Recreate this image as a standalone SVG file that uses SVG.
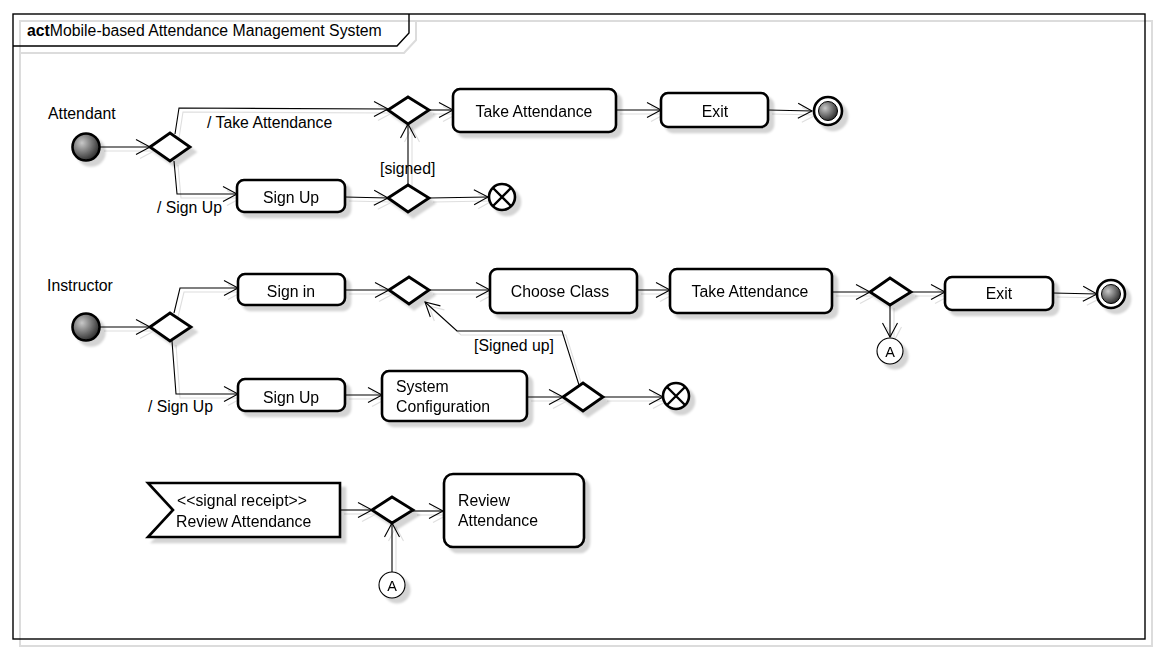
<svg xmlns="http://www.w3.org/2000/svg" width="1158" height="652" viewBox="0 0 1158 652">
<style>
text{font-family:"Liberation Sans",Arial,sans-serif;font-size:15.8px;fill:#000}
.c{text-anchor:middle}
.box{fill:#fff;stroke:#000;stroke-width:2.6}
.dia{fill:#fff;stroke:#000;stroke-width:2.8;stroke-linejoin:miter}
.conn path{fill:none;stroke:#000;stroke-width:1.1;marker-end:url(#arr)}
.node{filter:url(#sh)}
.conn{filter:url(#csh)}
.small{font-size:14.5px}
</style>
<defs>
<marker id="arr" markerUnits="userSpaceOnUse" viewBox="-16 -9 18 18" markerWidth="18" markerHeight="18" refX="0" refY="0" orient="auto">
<path d="M-14,-7.5 L0,0 L-14,7.5" fill="none" stroke="#000" stroke-width="1.1"/>
</marker>
<filter id="sh" x="-20%" y="-20%" width="150%" height="160%">
<feDropShadow dx="5" dy="5" stdDeviation="1.2" flood-color="#000" flood-opacity="0.17"/>
</filter>
<filter id="csh" x="-5%" y="-5%" width="110%" height="115%">
<feDropShadow dx="4" dy="4" stdDeviation="0.5" flood-color="#000" flood-opacity="0.13"/>
</filter>
<radialGradient id="g" cx="35%" cy="35%" r="70%">
<stop offset="0" stop-color="#c8c8c8"/>
<stop offset="1" stop-color="#2a2a2a"/>
</radialGradient>
</defs>
<rect width="1158" height="652" fill="#fff"/>
<g id="frame">
<g fill="none" stroke="#dcdcdc" stroke-width="2">
<rect x="20" y="21" width="1132" height="625"/>
<path d="M20,53 H404 L416,40 V21"/>
</g>
<g fill="none" stroke="#000" stroke-width="1.4">
<rect x="13" y="14" width="1132" height="625" fill="none"/>
<path d="M13,46 H397 L409,33 V14"/>
</g>
<text x="27" y="36"><tspan font-weight="bold">act</tspan>Mobile-based Attendance Management System</text>
</g>
<g class="conn" id="connectors">
<path d="M100,147 L150,147"/>
<path d="M175,134 L179,108 L388,109"/>
<path d="M174,161 L177,194 L237,194"/>
<path d="M345,197 L388,198"/>
<path d="M408,185 L408,124"/>
<path d="M429,198 L488,197"/>
<path d="M429,110 L453,110"/>
<path d="M616,110 L661,110"/>
<path d="M768,110 L812,111"/>
<path d="M100,327 L150,327"/>
<path d="M174,313 L180,288 L238,288"/>
<path d="M172,341 L176,394 L238,394"/>
<path d="M345,290 L389,290"/>
<path d="M429,290 L490,290"/>
<path d="M637,290 L670,290"/>
<path d="M832,292 L870,292"/>
<path d="M911,292 L945,292"/>
<path d="M1053,293 L1097,294"/>
<path d="M890,304 L890,337"/>
<path d="M345,395 L382,395"/>
<path d="M527,397 L563,397"/>
<path d="M603,397 L663,397"/>
<path d="M579,385 L562,331 L457,331 L425,302"/>
<path d="M340,510 L372,510"/>
<path d="M413,511 L443,511"/>
<path d="M392,572 L392,523"/>
</g>
<g id="labels">
<text x="48" y="119">Attendant</text>
<text x="207" y="128">/ Take Attendance</text>
<text x="157" y="213">/ Sign Up</text>
<text x="380" y="174">[signed]</text>
<text x="47" y="291">Instructor</text>
<text x="148" y="412">/ Sign Up</text>
<text x="474" y="351">[Signed up]</text>
</g>
<g id="init1" class="node"><circle cx="86" cy="147" r="13.5" fill="url(#g)" stroke="#000" stroke-width="2.6"/></g>
<g id="dec1" class="node"><polygon class="dia" points="150,147 170,133 190,147 170,161"/></g>
<g id="dec2" class="node"><polygon class="dia" points="388,110 408,97 429,110 408,124"/></g>
<g id="signup1" class="node"><rect class="box" x="237" y="180" width="108" height="32" rx="7"/><text class="c" x="291" y="203">Sign Up</text></g>
<g id="dec3" class="node"><polygon class="dia" points="388,198 408,185 429,198 408,212"/></g>
<g id="ff1" class="node"><circle cx="502" cy="197" r="13" fill="#fff" stroke="#000" stroke-width="2.6"/><path d="M493,188 L511,206 M511,188 L493,206" stroke="#000" stroke-width="2.4"/></g>
<g id="take1" class="node"><rect class="box" x="453" y="89" width="163" height="43" rx="7"/><text class="c" x="534" y="117">Take Attendance</text></g>
<g id="exit1" class="node"><rect class="box" x="661" y="93" width="107" height="34" rx="7"/><text class="c" x="715" y="117">Exit</text></g>
<g id="final1" class="node"><circle cx="828" cy="111" r="14" fill="#fff" stroke="#000" stroke-width="2.6"/><circle cx="828" cy="111" r="9.5" fill="url(#g)" stroke="#000" stroke-width="1"/></g>
<g id="init2" class="node"><circle cx="86" cy="327" r="13.5" fill="url(#g)" stroke="#000" stroke-width="2.6"/></g>
<g id="dec4" class="node"><polygon class="dia" points="150,327 170,313 191,327 170,341"/></g>
<g id="signin" class="node"><rect class="box" x="238" y="274" width="107" height="31" rx="7"/><text class="c" x="291" y="297">Sign in</text></g>
<g id="signup2" class="node"><rect class="box" x="238" y="379" width="107" height="32" rx="7"/><text class="c" x="291" y="403">Sign Up</text></g>
<g id="dec5" class="node"><polygon class="dia" points="389,290 409,277 429,290 409,304"/></g>
<g id="choose" class="node"><rect class="box" x="490" y="269" width="147" height="44" rx="7"/><text class="c" x="560" y="297">Choose Class</text></g>
<g id="take2" class="node"><rect class="box" x="670" y="269" width="162" height="44" rx="7"/><text class="c" x="750" y="297">Take Attendance</text></g>
<g id="dec6" class="node"><polygon class="dia" points="870,292 890,278 911,292 890,305"/></g>
<g id="exit2" class="node"><rect class="box" x="945" y="277" width="108" height="33" rx="7"/><text class="c" x="999" y="299">Exit</text></g>
<g id="final2" class="node"><circle cx="1111" cy="294" r="14" fill="#fff" stroke="#000" stroke-width="2.6"/><circle cx="1111" cy="294" r="9.5" fill="url(#g)" stroke="#000" stroke-width="1"/></g>
<g id="connA1" class="node"><circle cx="890" cy="351" r="13" fill="#fff" stroke="#000" stroke-width="1.1"/><text class="c small" x="890" y="357">A</text></g>
<g id="sysconf" class="node"><rect class="box" x="382" y="371" width="145" height="50" rx="7"/><text x="396" y="392">System</text><text x="396" y="412">Configuration</text></g>
<g id="dec7" class="node"><polygon class="dia" points="563,397 583,383 603,397 583,411"/></g>
<g id="ff2" class="node"><circle cx="676" cy="396" r="13" fill="#fff" stroke="#000" stroke-width="2.6"/><path d="M667,387 L685,405 M685,387 L667,405" stroke="#000" stroke-width="2.4"/></g>
<g id="signal" class="node"><polygon points="148,483 340,483 340,537 148,537 173,510" fill="#fff" stroke="#000" stroke-width="2.6"/><text x="177" y="506">&lt;&lt;signal receipt&gt;&gt;</text><text x="176" y="527">Review Attendance</text></g>
<g id="dec8" class="node"><polygon class="dia" points="372,510 392,497 413,510 392,523"/></g>
<g id="review" class="node"><rect class="box" x="444" y="474" width="140" height="73" rx="9"/><text x="458" y="506">Review</text><text x="458" y="526">Attendance</text></g>
<g id="connA2" class="node"><circle cx="392" cy="585" r="13" fill="#fff" stroke="#000" stroke-width="1.1"/><text class="c small" x="392" y="591">A</text></g>
</svg>
